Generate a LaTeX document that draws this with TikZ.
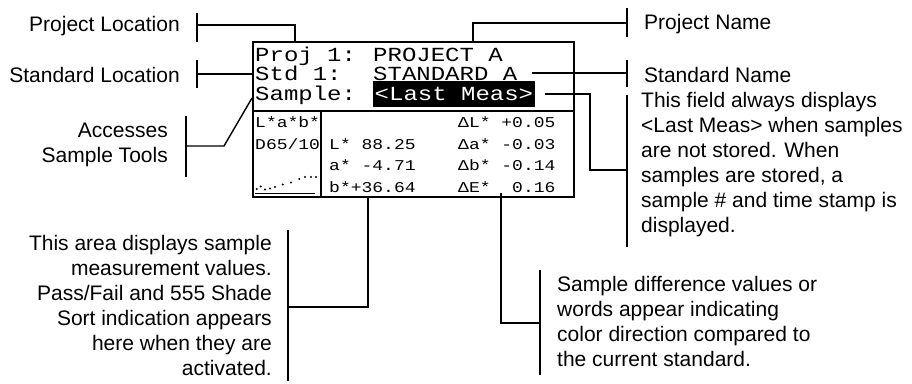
\documentclass[tikz,border=0pt]{standalone}
\usepackage{fontspec}
\setmainfont{Liberation Sans}
\newfontfamily\lcd{Liberation Mono}
\usepackage{graphicx}
\newcommand\lcdbig[1]{\scalebox{1.2}[1]{\lcd\fontsize{20}{20}\selectfont #1}}
\newcommand\lcdsml[1]{\scalebox{1.2}[1]{\lcd\fontsize{15}{15}\selectfont #1}}
\begin{document}
\begin{tikzpicture}[x=1pt,y=-1pt,
  lbl/.style={font=\fontsize{21}{25}\selectfont, inner sep=0pt},
  lcdtop/.style={anchor=base west, inner sep=0pt},
  lcdbot/.style={anchor=base west, inner sep=0pt},
  panel/.style={draw, line width=2.2pt, inner sep=0pt},
  conn/.style={line width=1.4pt},
  tickline/.style={line width=1.4pt},
  dotmark/.style={circle, fill=black, inner sep=0pt, minimum size=2.2pt}]
\useasboundingbox[fill=white] (0,0) rectangle (912,383);

% screen panels
\node[panel, minimum width=321pt, minimum height=69pt] (scrtop) at (413.5,76.5) {};
\node[panel, minimum width=321pt, minimum height=86pt] (scrbot) at (413.5,154) {};
\node[panel, minimum width=68pt, minimum height=86pt] (scrleft) at (287,154) {};

% top rows
\node[lcdtop] (proj) at (255,61.5) {\lcdbig{Proj 1:}};
\node[lcdtop] (projname) at (373,61.5) {\lcdbig{PROJECT A}};
\node[lcdtop] (std) at (255,80) {\lcdbig{Std 1:}};
\node[lcdtop] (stdname) at (373,80) {\lcdbig{STANDARD A}};
\node[lcdtop] (sample) at (255,100) {\lcdbig{Sample:}};
\node[anchor=west, fill=black, text=white, inner xsep=2pt, inner ysep=0pt,
      minimum height=26pt] (lastmeas) at (372.5,94) {\lcdbig{<Last Meas>}};

% bottom left column
\node[lcdbot] (lab) at (255,127.5) {\lcdsml{L*a*b*}};
\node[lcdbot] (ill) at (255,149) {\lcdsml{D65/10}};
\draw[line width=1.2pt] (255,193.3) coordinate (ulA) -- (315,193.3) coordinate (ulB);
\foreach \px/\py [count=\i] in {256.7/189,260.7/186.5,265/189.5,270/188.5,275/187,
  282.7/184.5,291/182.5,299.3/179,305/177,311/177,316/177}
  \node[dotmark] (dot\i) at (\px,\py) {};

% bottom measurements
\node[lcdbot] (lval) at (329,149) {\lcdsml{L* 88.25}};
\node[lcdbot] (aval) at (329,170.5) {\lcdsml{a* -4.71}};
\node[lcdbot] (bval) at (329,192) {\lcdsml{b*+36.64}};
\node[lcdbot] (dl) at (458,127.5) {\lcdsml{ΔL* +0.05}};
\node[lcdbot] (da) at (458,149) {\lcdsml{Δa* -0.03}};
\node[lcdbot] (db) at (458,170.5) {\lcdsml{Δb* -0.14}};
\node[lcdbot] (de) at (458,192) {\lcdsml{ΔE*~~0.16}};

% labels
\node[lbl, anchor=east] (tPL) at (180,26) {Project Location};
\node[lbl, anchor=east] (tSL) at (180,75) {Standard Location};
\node[lbl, anchor=east, align=right] (tAST) at (168,145) {Accesses\\Sample Tools};
\node[lbl, anchor=west] (tPN) at (644,24) {Project Name};
\node[lbl, anchor=west] (tSN) at (644,75) {Standard Name};
\node[lbl, anchor=west, align=left] (tFLD) at (641,165) {This field always displays\\
  <Last Meas> when samples\\are not stored. When\\samples are stored, a\\
  sample \# and time stamp is\\displayed.};
\node[lbl, anchor=east, align=right] (tAREA) at (272,305) {This area displays sample\\
  measurement values.\\Pass/Fail and 555 Shade\\Sort indication appears\\
  here when they are\\activated.};
\node[lbl, anchor=west, align=left] (tDIFF) at (557,321) {Sample difference values or\\
  words appear indicating\\color direction compared to\\the current standard.};

% ticks
\coordinate (kPLa) at (197,13);  \coordinate (kPLb) at (197,42);
\coordinate (kSLa) at (197,60);  \coordinate (kSLb) at (197,88);
\coordinate (kASa) at (186,116); \coordinate (kASb) at (186,177);
\coordinate (kPNa) at (627,8);   \coordinate (kPNb) at (627,37);
\coordinate (kSNa) at (627,60);  \coordinate (kSNb) at (627,87);
\coordinate (kFDa) at (627,95);  \coordinate (kFDb) at (627,247);
\coordinate (kARa) at (288,230); \coordinate (kARb) at (288,381);
\coordinate (kDFa) at (540,270); \coordinate (kDFb) at (540,375);
\foreach \k in {PL,SL,AS,PN,SN,FD,AR,DF}
  \draw[tickline] (k\k a) -- (k\k b);

% connectors
\draw[conn] (197,25) -- (295,25) -- (295,42);
\draw[conn] (197,74) -- (scrtop.west |- 0,74);
\draw[conn] (186,146) -- (224,146) -- (252,98);
\draw[conn] (473,42) -- (473,23) -- (627,23);
\draw[conn] (532,73) -- (627,73);
\draw[conn] (lastmeas.east) ++(10,0) -- (590,94) -- (590,170) -- (627,170);
\draw[conn] (368,197) -- (368,307) -- (288,307);
\draw[conn] (501,193) -- (501,323) -- (540,323);
\end{tikzpicture}
\end{document}
